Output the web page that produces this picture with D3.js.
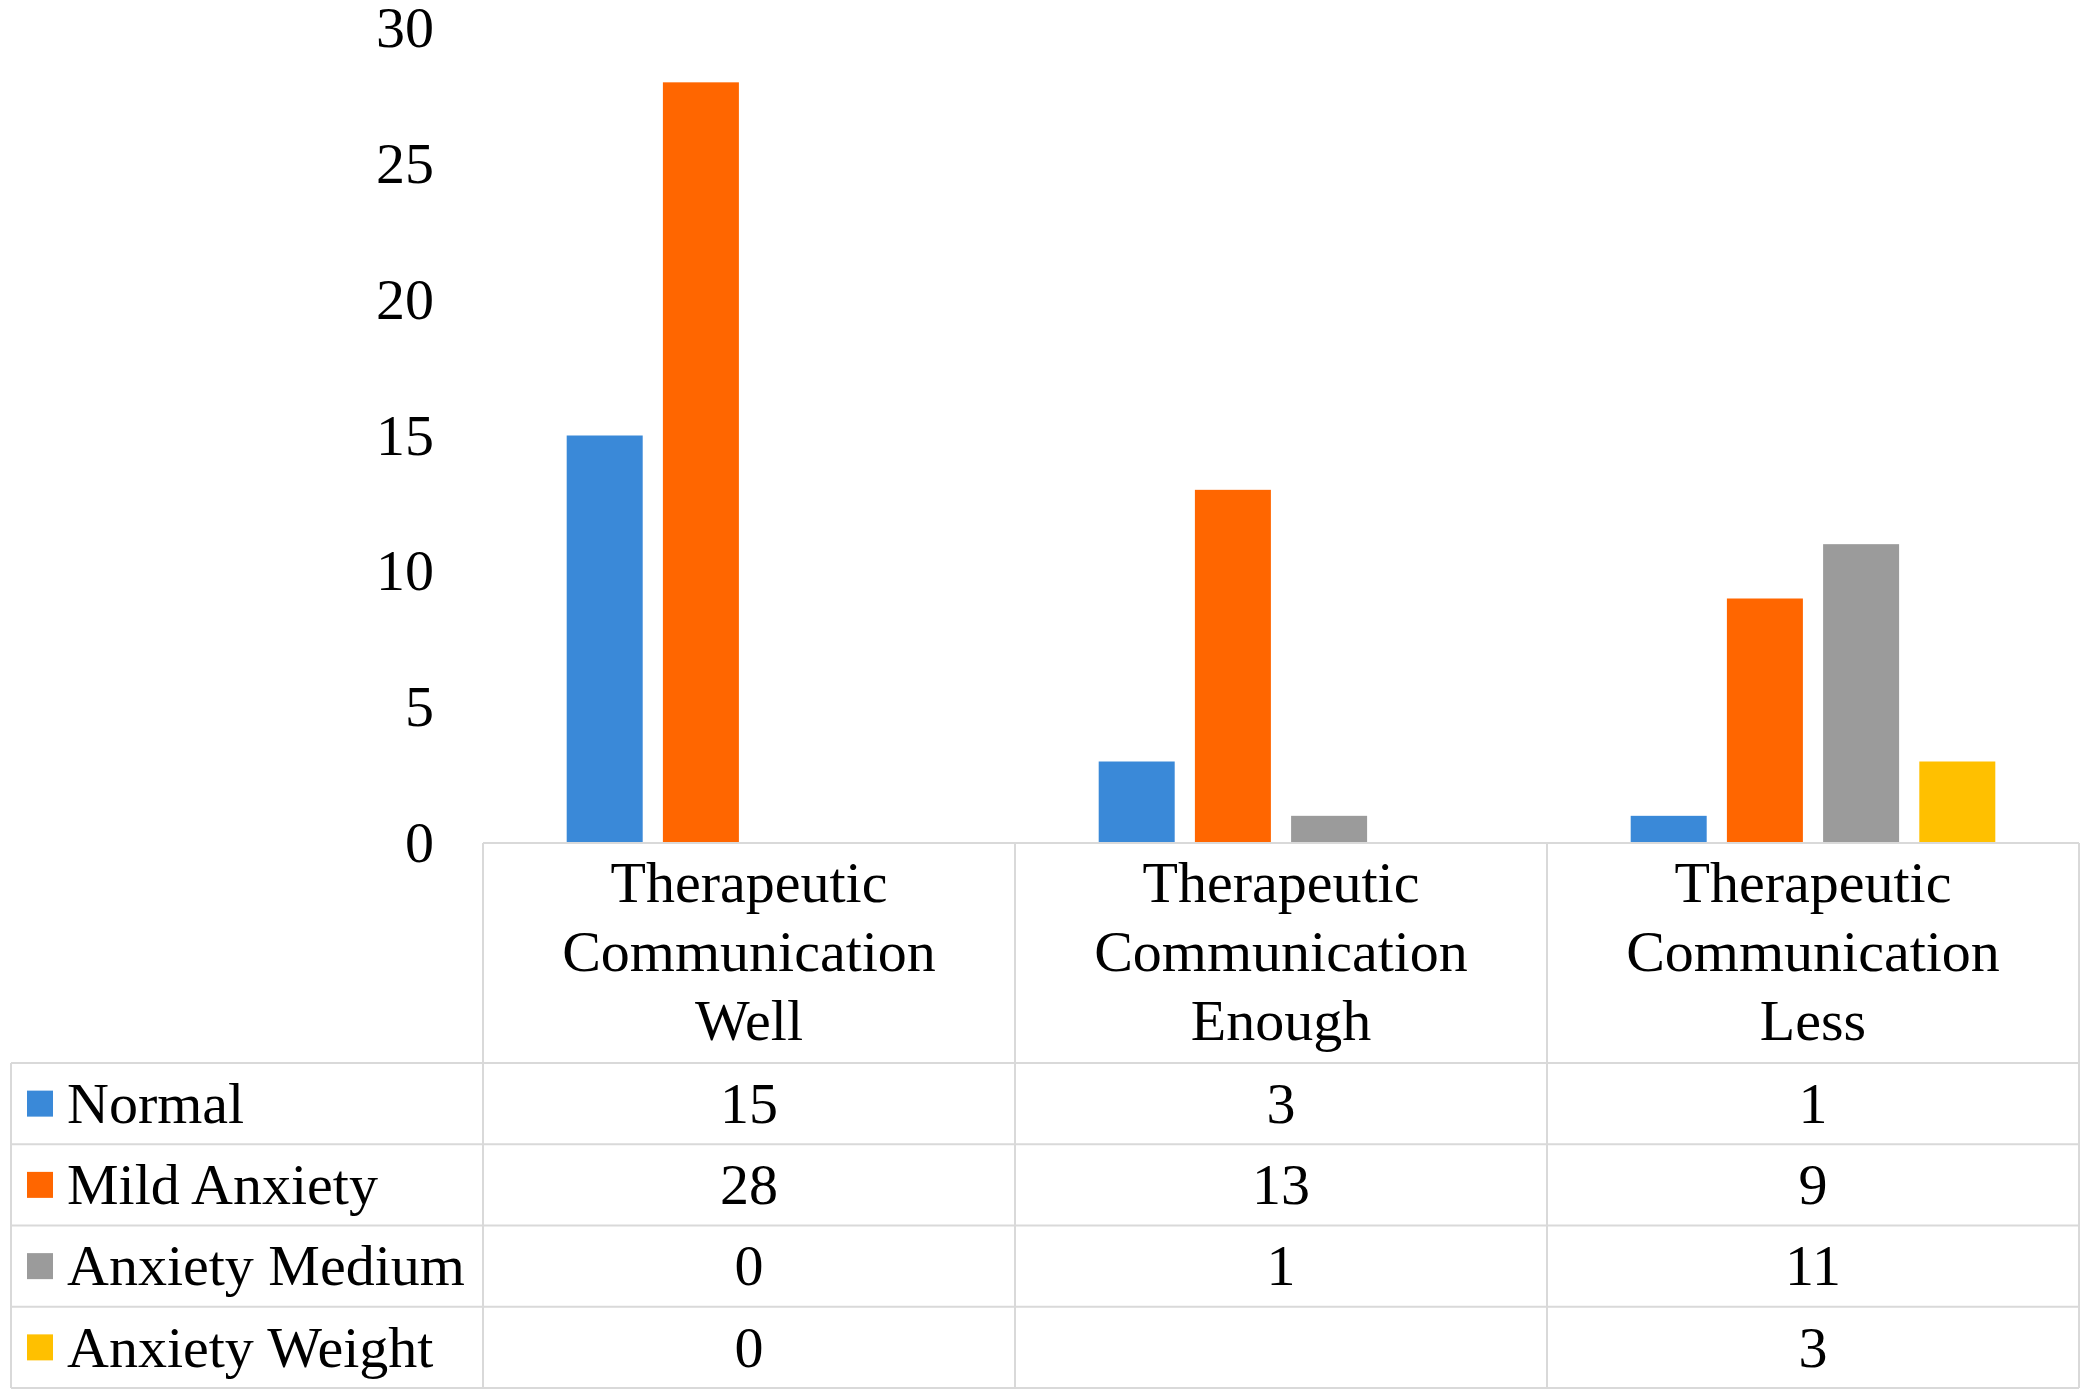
<!DOCTYPE html>
<html>
<head>
<meta charset="utf-8">
<script src="https://cdn.jsdelivr.net/npm/d3@7"></script>
<style>
  html, body { margin: 0; padding: 0; background: #fff; }
  svg { display: block; }
  text { font-family: "Liberation Serif", "Times New Roman", serif; fill: #000; }
</style>
</head>
<body>
<svg id="chart" width="2091" height="1400"></svg>
<script>
// ---- data ----
const categories = ["Therapeutic Communication Well", "Therapeutic Communication Enough", "Therapeutic Communication Less"];
const seriesNames = ["Normal", "Mild Anxiety", "Anxiety Medium", "Anxiety Weight"];
const normal = [15, 3, 1];
const mildAnxiety = [28, 13, 9];
const anxietyMedium = [0, 1, 11];
const anxietyWeight = [0, null, 3];
const yTicks = [0, 5, 10, 15, 20, 25, 30];
const colors = ["#3a89d8", "#ff6600", "#9b9b9b", "#ffc000"];

const seriesValues = [normal, mildAnxiety, anxietyMedium, anxietyWeight];

// ---- layout ----
const svg = d3.select("#chart");
const plotLeft = 483, plotRight = 2079;
const baseY = 843, topY = 28;
const legendLeft = 11;
const headerBottom = 1063;
const rowH = 81.25;
const fs = 58;
const lineColor = "#d9d9d9";

const x0 = d3.scaleBand().domain(categories).range([plotLeft, plotRight]).paddingInner(0).paddingOuter(0);
const x1 = d3.scaleBand().domain(seriesNames).range([0, x0.bandwidth()]).paddingInner(0.21).paddingOuter(0.87);
const y = d3.scaleLinear().domain([0, 30]).range([baseY, topY]);
const color = d3.scaleOrdinal().domain(seriesNames).range(colors);

// ---- y axis ----
const yAxis = d3.axisLeft(y).tickValues(yTicks).tickSize(0).tickPadding(49);
const gy = svg.append("g").attr("transform", `translate(${plotLeft},0)`).call(yAxis);
gy.select(".domain").remove();
gy.selectAll("text").attr("font-size", fs).attr("font-family", "Liberation Serif, Times New Roman, serif").attr("fill", "#000");

// ---- bars ----
const barData = [];
seriesNames.forEach((s, si) => {
  categories.forEach((c, ci) => {
    const v = seriesValues[si][ci];
    if (v !== null && v !== undefined) barData.push({ s, c, v });
  });
});
svg.append("g").selectAll("rect").data(barData).join("rect")
  .attr("x", d => x0(d.c) + x1(d.s))
  .attr("y", d => y(d.v))
  .attr("width", x1.bandwidth())
  .attr("height", d => y(0) - y(d.v))
  .attr("fill", d => color(d.s));

// ---- data table ----
const rowsBottom = headerBottom + rowH * seriesNames.length;
const grid = svg.append("g").attr("stroke", lineColor).attr("stroke-width", 2);
// top border (axis line)
grid.append("line").attr("x1", plotLeft).attr("x2", plotRight).attr("y1", baseY).attr("y2", baseY);
// horizontal row lines
d3.range(seriesNames.length + 1).forEach(i => {
  const yy = headerBottom + i * rowH;
  grid.append("line").attr("x1", legendLeft).attr("x2", plotRight).attr("y1", yy).attr("y2", yy);
});
// vertical lines
grid.append("line").attr("x1", legendLeft).attr("x2", legendLeft).attr("y1", headerBottom).attr("y2", rowsBottom);
categories.forEach(c => {
  const xx = x0(c);
  grid.append("line").attr("x1", xx).attr("x2", xx).attr("y1", baseY).attr("y2", rowsBottom);
});
grid.append("line").attr("x1", plotRight).attr("x2", plotRight).attr("y1", baseY).attr("y2", rowsBottom);

// header category labels
const hdr = svg.append("g");
categories.forEach(c => {
  const cx = x0(c) + x0.bandwidth() / 2;
  const words = c.split(" ");
  const t = hdr.append("text").attr("text-anchor", "middle").attr("font-size", fs);
  words.forEach((w, i) => {
    t.append("tspan").attr("x", cx).attr("y", 902 + i * 69).text(w);
  });
});

// legend rows + values
const rows = svg.append("g");
seriesNames.forEach((s, si) => {
  const cy = headerBottom + si * rowH + rowH / 2;
  rows.append("rect").attr("x", 27).attr("y", cy - 13).attr("width", 26).attr("height", 26).attr("fill", color(s));
  rows.append("text").attr("x", 67).attr("y", cy + fs * 0.33).attr("font-size", fs).text(s);
  categories.forEach((c, ci) => {
    const v = seriesValues[si][ci];
    if (v === null || v === undefined) return;
    rows.append("text").attr("x", x0(c) + x0.bandwidth() / 2).attr("y", cy + fs * 0.33)
      .attr("text-anchor", "middle").attr("font-size", fs).text(v);
  });
});
</script>
</body>
</html>
